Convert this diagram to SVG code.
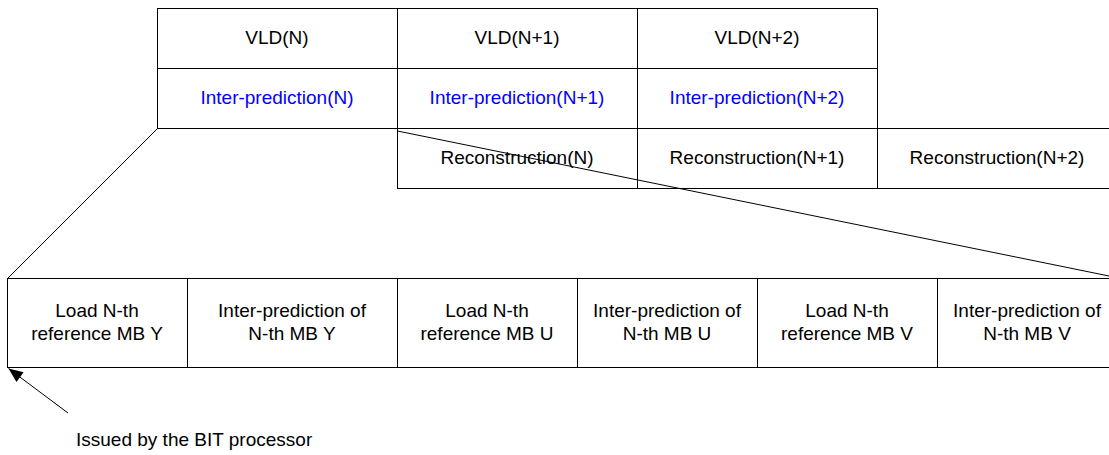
<svg xmlns="http://www.w3.org/2000/svg" width="1109" height="455" viewBox="0 0 1109 455">
<style>
text{font-family:"Liberation Sans",Arial,sans-serif;font-size:19px;fill:#000;text-anchor:middle}
.b{fill:#0000ff}
.l{stroke:#000;stroke-width:1;fill:none}
.c{fill:#fff;stroke:#000;stroke-width:1}
</style>
<defs>
<marker id="ah2" viewBox="0 0 12 10" refX="12" refY="5" markerWidth="15" markerHeight="12" markerUnits="userSpaceOnUse" orient="auto"><path d="M0,0 L12,5 L0,10 z" fill="#000"/></marker>
</defs>
<g id="vld-n"><rect class="c" x="157.5" y="8.5" width="240" height="60"/><text x="277" y="44">VLD(N)</text></g>
<g id="vld-n1"><rect class="c" x="397.5" y="8.5" width="240" height="60"/><text x="517" y="44">VLD(N+1)</text></g>
<g id="vld-n2"><rect class="c" x="637.5" y="8.5" width="240" height="60"/><text x="757" y="44">VLD(N+2)</text></g>
<g id="ip-n"><rect class="c" x="157.5" y="68.5" width="240" height="60"/><text class="b" x="277" y="104">Inter-prediction(N)</text></g>
<g id="ip-n1"><rect class="c" x="397.5" y="68.5" width="240" height="60"/><text class="b" x="517" y="104">Inter-prediction(N+1)</text></g>
<g id="ip-n2"><rect class="c" x="637.5" y="68.5" width="240" height="60"/><text class="b" x="757" y="104">Inter-prediction(N+2)</text></g>
<g id="rc-n"><rect class="c" x="397.5" y="128.5" width="240" height="60"/><text x="517" y="164">Reconstruction(N)</text></g>
<g id="rc-n1"><rect class="c" x="637.5" y="128.5" width="240" height="60"/><text x="757" y="164">Reconstruction(N+1)</text></g>
<g id="rc-n2"><path class="l" d="M877.5,128.5 H1109 M877.5,188.5 H1109"/><text x="997" y="164">Reconstruction(N+2)</text></g>
<g id="load-y"><rect class="c" x="7.5" y="278.5" width="180" height="89"/><text x="97" y="317">Load N-th</text><text x="97" y="340">reference MB Y</text></g>
<g id="ip-y"><rect class="c" x="187.5" y="278.5" width="210" height="89"/><text x="292" y="317">Inter-prediction of</text><text x="292" y="340">N-th MB Y</text></g>
<g id="load-u"><rect class="c" x="397.5" y="278.5" width="180" height="89"/><text x="487" y="317">Load N-th</text><text x="487" y="340">reference MB U</text></g>
<g id="ip-u"><rect class="c" x="577.5" y="278.5" width="180" height="89"/><text x="667" y="317">Inter-prediction of</text><text x="667" y="340">N-th MB U</text></g>
<g id="load-v"><rect class="c" x="757.5" y="278.5" width="180" height="89"/><text x="847" y="317">Load N-th</text><text x="847" y="340">reference MB V</text></g>
<g id="ip-v"><path class="l" d="M937.5,278.5 H1109 M937.5,367.5 H1109 M937.5,278.5 V367.5"/><text x="1027" y="317">Inter-prediction of</text><text x="1027" y="340">N-th MB V</text></g>
<g id="connectors">
<line class="l" x1="157.5" y1="128.5" x2="7.5" y2="278.5"/>
<line class="l" x1="397.5" y1="131" x2="1109" y2="276"/>
<line class="l" x1="68" y1="413" x2="8.5" y2="368.5" marker-end="url(#ah2)"/>
</g>
<g id="note"><text x="76" y="446" style="text-anchor:start">Issued by the BIT processor</text></g>
</svg>
